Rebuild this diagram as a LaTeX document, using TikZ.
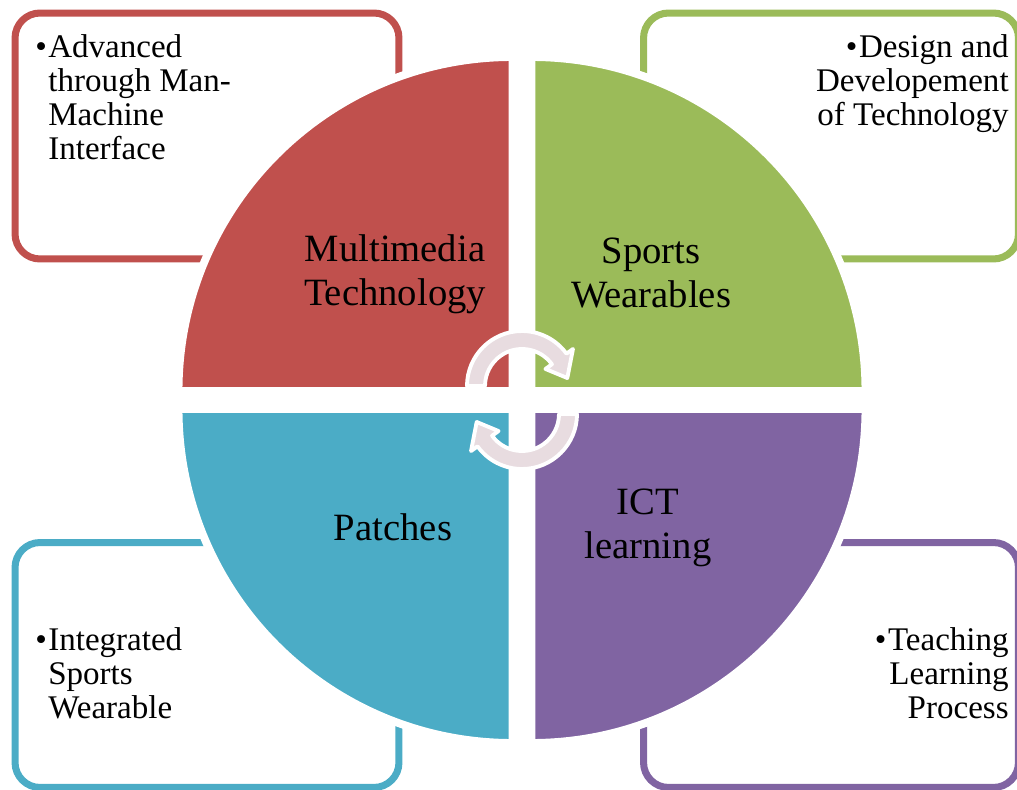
\documentclass[tikz,border=0pt]{standalone}
\usepackage{fontspec}
\setmainfont{Liberation Serif}

\definecolor{redq}{HTML}{C0504D}
\definecolor{greenq}{HTML}{9BBB59}
\definecolor{blueq}{HTML}{4BACC6}
\definecolor{purpleq}{HTML}{8064A2}
\definecolor{cyclefill}{HTML}{E8DCE0}

\begin{document}
\begin{tikzpicture}[x=0.02cm, y=0.02cm,
		infobox/.style={rectangle, draw, line width=4pt, rounded corners=0.5cm, minimum height=4.92cm},
		quad/.style={draw=white, line width=4.5pt},
		cyclearrow/.style={draw=white, line width=2.2pt, fill=cyclefill, line join=round},
		quadtext/.style={font=\fontsize{22}{25}\selectfont, align=center, inner sep=0pt},
		boxtext/.style={font=\fontsize{18.8}{19.4}\selectfont, inner sep=0pt}]
			\useasboundingbox (0,0) rectangle (1017,789);

			% Boxes
			\node[infobox, draw=redq, minimum width=7.68cm] (redbox) at (207,653) {};
			\node[infobox, draw=greenq, minimum width=7.5cm] (greenbox) at (831,653) {};
			\node[infobox, draw=blueq, minimum width=7.68cm, minimum height=4.9cm] (bluebox) at (207,124) {};
			\node[infobox, draw=purpleq, minimum width=7.5cm, minimum height=4.9cm] (purplebox) at (831,124) {};

			% Quadrants
			\filldraw[quad, fill=redq] (512.5,398) -- ++(-334,0) arc[start angle=180, end angle=90, radius=334] -- cycle;
			\filldraw[quad, fill=greenq] (531.5,398) -- ++(0,334) arc[start angle=90, end angle=0, radius=334] -- cycle;
			\filldraw[quad, fill=blueq] (512.5,380) -- ++(0,-334) arc[start angle=270, end angle=180, radius=334] -- cycle;
			\filldraw[quad, fill=purpleq] (531.5,380) -- ++(334,0) arc[start angle=0, end angle=-90, radius=334] -- cycle;

			% Cycle arrows
			\begin{scope}[shift={(522,403)}]
				\filldraw[cyclearrow] (180:55) arc[start angle=180, end angle=36, radius=55] -- (36:63) -- (10:46) -- (36:29) -- (36:37) arc[start angle=36, end angle=180, radius=37] -- cycle;
			\end{scope}
			\begin{scope}[shift={(522,375)}]
				\filldraw[cyclearrow] (0:55) arc[start angle=0, end angle=-144, radius=55] -- (-144:63) -- (-170:46) -- (-144:29) -- (-144:37) arc[start angle=-144, end angle=0, radius=37] -- cycle;
			\end{scope}

			% Labels
			\node[quadtext] (mmtech) at (395,515) {Multimedia\\Technology};
			\node[quadtext] (sportsw) at (651,516) {Sports\\Wearables};
			\node[quadtext] (patches) at (393,262) {Patches};
			\node[quadtext] (ictlearn) at (648,261) {ICT\\learning};

			\node[boxtext, align=left, anchor=north west] (advtxt) at (35,755)
				{\makebox[0.26cm][l]{\textbullet}Advanced\\\hspace*{0.26cm}through Man-\\\hspace*{0.26cm}Machine\\\hspace*{0.26cm}Interface};
			\node[boxtext, align=right, anchor=north east] (designtxt) at (1009,755)
				{\textbullet\hspace{1pt}Design and\\Developement\\of Technology};
			\node[boxtext, align=left, anchor=north west] (integtxt) at (35,162)
				{\makebox[0.26cm][l]{\textbullet}Integrated\\\hspace*{0.26cm}Sports\\\hspace*{0.26cm}Wearable};
			\node[boxtext, align=right, anchor=north east] (teachtxt) at (1009,162)
				{\textbullet\hspace{1pt}Teaching\\Learning\\Process};
		\end{tikzpicture}
\end{document}
